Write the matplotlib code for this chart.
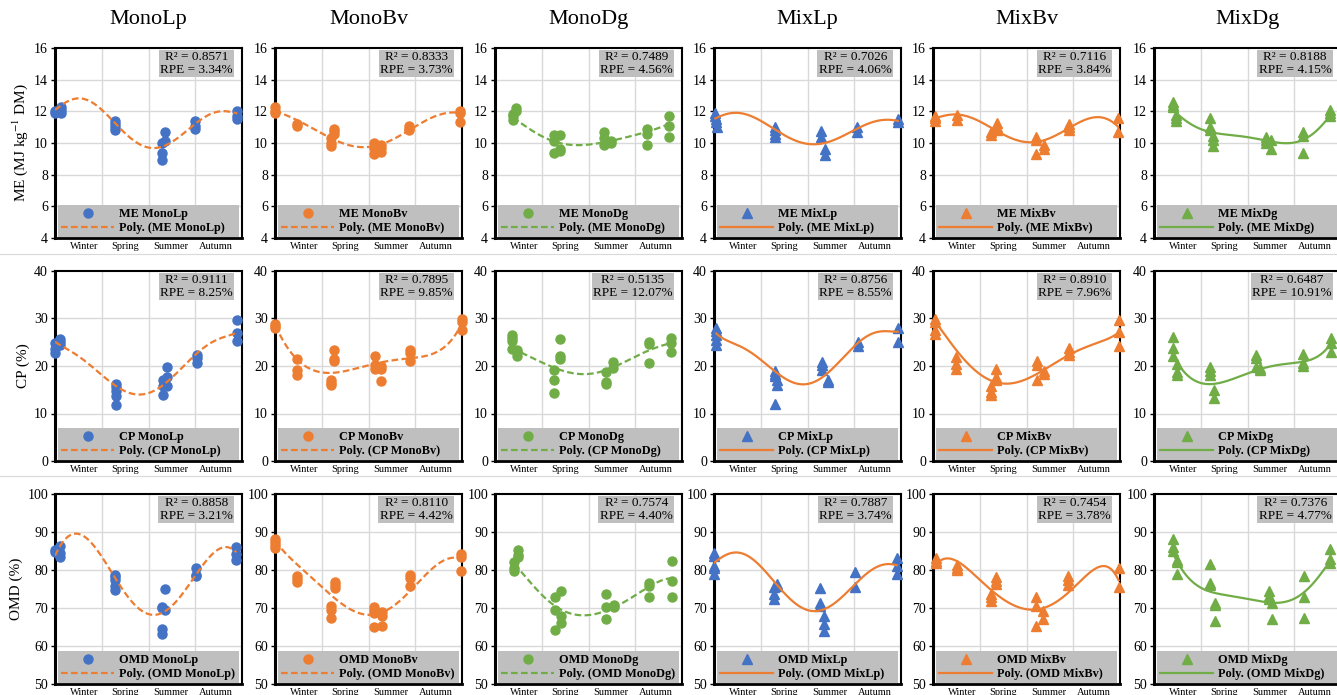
import numpy as np
import matplotlib
matplotlib.use('Agg')
import matplotlib.pyplot as plt
from matplotlib.lines import Line2D

plt.rcParams['font.family'] = ['Liberation Serif', 'DejaVu Serif']
plt.rcParams['mathtext.fontset'] = 'stix'

# ==========================================
# data (x: season axis, 0-4)
# ==========================================
cultivars = ['MonoLp', 'MonoBv', 'MonoDg', 'MixLp', 'MixBv', 'MixDg']
traits = ['ME', 'CP', 'OMD']
seasons = ['Winter', 'Spring', 'Summer', 'Autumn']
season_pos = [0.62, 1.5, 2.47, 3.43]

ylabels = [r'ME (MJ kg$^{-1}$ DM)', 'CP (%)', 'OMD (%)']
ylims = [(4, 16, 2), (0, 40, 10), (50, 100, 10)]

r2_me = [0.8571, 0.8333, 0.7489, 0.7026, 0.7116, 0.8188]
rpe_me = [3.34, 3.73, 4.56, 4.06, 3.84, 4.15]
r2_cp = [0.9111, 0.7895, 0.5135, 0.8756, 0.8910, 0.6487]
rpe_cp = [8.25, 9.85, 12.07, 8.55, 7.96, 10.91]
r2_omd = [0.8858, 0.8110, 0.7574, 0.7887, 0.7454, 0.7376]
rpe_omd = [3.21, 4.42, 4.40, 3.74, 3.78, 4.77]

# --- ME ---
me_monolp_x = [0, 0, 0.12, 0.12, 0.12, 1.28, 1.28, 1.28, 1.28, 2.28, 2.28, 2.28, 2.36, 2.36, 3.0, 3.0, 3.0, 3.9, 3.9, 3.9]
me_monolp_y = [12.0, 11.9, 12.3, 12.1, 11.9, 11.4, 11.2, 11.0, 10.8, 10.0, 9.4, 8.9, 10.7, 10.1, 11.4, 11.1, 10.9, 12.0, 11.7, 11.5]
me_monolp_tx = [0, 0.45, 1.0, 1.25, 1.6, 2.06, 2.5, 3.0, 3.6, 3.9]
me_monolp_ty = [12.1, 12.75, 12.3, 11.2, 10.3, 9.75, 10.1, 11.15, 12.05, 11.85]

me_monobv_x = [0, 0, 0, 0.47, 0.47, 1.2, 1.2, 1.2, 1.27, 1.27, 1.27, 2.12, 2.12, 2.12, 2.26, 2.26, 2.26, 2.87, 2.87, 2.87, 3.95, 3.95, 3.95]
me_monobv_y = [12.3, 12.0, 11.9, 11.2, 11.1, 10.3, 10.0, 9.8, 10.9, 10.75, 10.6, 10.0, 9.7, 9.3, 9.85, 9.7, 9.45, 11.1, 10.9, 10.8, 12.0, 11.9, 11.3]
me_monobv_tx = [0, 0.47, 1.0, 1.5, 1.92, 2.5, 3.0, 3.5, 3.8, 3.95]
me_monobv_ty = [12.05, 11.45, 10.6, 9.95, 9.72, 10.2, 11.05, 11.75, 11.95, 11.9]

me_monodg_x = [0.38, 0.38, 0.38, 0.45, 0.45, 1.27, 1.27, 1.27, 1.39, 1.39, 1.39, 2.33, 2.33, 2.33, 2.49, 2.49, 3.25, 3.25, 3.25, 3.72, 3.72, 3.72]
me_monodg_y = [11.45, 11.7, 11.85, 12.2, 12.05, 10.5, 10.1, 9.35, 10.5, 9.65, 9.5, 10.7, 10.3, 9.85, 10.15, 10.0, 10.9, 10.6, 9.9, 11.7, 11.1, 10.4]
me_monodg_tx = [0.38, 0.7, 1.0, 1.3, 1.64, 2.0, 2.5, 3.0, 3.4, 3.72]
me_monodg_ty = [11.6, 10.95, 10.45, 10.05, 9.88, 9.9, 10.15, 10.5, 10.85, 11.2]

me_mixlp_x = [0.03, 0.03, 0.05, 0.05, 0.07, 1.31, 1.31, 1.31, 1.31, 2.29, 2.29, 2.37, 2.37, 3.05, 3.05, 3.93, 3.93]
me_mixlp_y = [11.9, 11.7, 11.5, 11.3, 11.0, 11.0, 10.85, 10.6, 10.4, 10.75, 10.35, 9.6, 9.25, 11.0, 10.7, 11.5, 11.3]
me_mixlp_tx = [0.03, 0.4, 1.0, 1.5, 2.2, 2.7, 3.05, 3.5, 3.93]
me_mixlp_ty = [11.55, 11.9, 11.4, 10.5, 9.93, 10.35, 10.9, 11.4, 11.4]

me_mixbv_x = [0.04, 0.04, 0.04, 0.51, 0.51, 1.23, 1.23, 1.36, 1.36, 1.36, 2.2, 2.2, 2.2, 2.37, 2.37, 2.9, 2.9, 2.9, 3.96, 3.96]
me_mixbv_y = [11.7, 11.55, 11.4, 11.8, 11.45, 10.7, 10.5, 11.25, 11.0, 10.8, 10.4, 10.2, 9.3, 9.85, 9.6, 11.2, 11.0, 10.85, 11.6, 10.7]
me_mixbv_tx = [0.04, 0.48, 1.0, 1.4, 2.0, 2.4, 2.9, 3.47, 3.8, 3.96]
me_mixbv_ty = [11.55, 11.8, 11.35, 10.75, 9.95, 10.3, 10.9, 11.6, 11.45, 11.0]

me_mixdg_x = [0.4, 0.4, 0.4, 0.47, 0.47, 0.47, 1.19, 1.19, 1.19, 1.27, 1.27, 1.27, 2.4, 2.4, 2.4, 2.5, 2.5, 3.19, 3.19, 3.19, 3.77, 3.77, 3.77]
me_mixdg_y = [12.6, 12.4, 12.25, 11.8, 11.55, 11.4, 11.6, 11.0, 10.8, 10.45, 10.2, 9.8, 10.4, 10.2, 10.0, 10.2, 9.6, 10.7, 10.45, 9.4, 12.1, 11.9, 11.7]
me_mixdg_tx = [0.4, 0.7, 1.0, 1.3, 1.8, 2.4, 2.9, 3.2, 3.5, 3.77]
me_mixdg_ty = [12.1, 11.35, 10.9, 10.62, 10.45, 10.15, 10.0, 10.2, 10.85, 11.75]

# --- CP ---
cp_monolp_x = [0, 0, 0, 0.1, 0.1, 0.1, 1.3, 1.3, 1.3, 1.3, 1.3, 2.32, 2.32, 2.32, 2.39, 2.39, 2.39, 3.04, 3.04, 3.04, 3.9, 3.9, 3.9]
cp_monolp_y = [24.9, 23.5, 22.8, 25.6, 25.1, 24.5, 16.3, 15.5, 14.8, 13.7, 11.85, 17.0, 15.8, 13.8, 19.8, 17.6, 15.8, 22.3, 21.7, 20.7, 29.6, 26.9, 25.2]
cp_monolp_tx = [0, 0.5, 1.0, 1.4, 1.85, 2.3, 2.7, 3.0, 3.4, 3.9]
cp_monolp_ty = [25.1, 22.0, 18.3, 15.0, 14.0, 16.0, 19.5, 22.2, 25.3, 27.0]

cp_monobv_x = [0.01, 0.01, 0.01, 0.46, 0.46, 0.46, 1.2, 1.2, 1.2, 1.27, 1.27, 1.27, 2.13, 2.13, 2.13, 2.27, 2.27, 2.27, 2.89, 2.89, 2.89, 3.99, 3.99, 3.99]
cp_monobv_y = [28.8, 28.4, 28.0, 21.4, 19.1, 18.2, 17.1, 16.5, 15.9, 23.3, 21.5, 21.0, 22.2, 20.2, 19.3, 20.0, 19.4, 16.8, 23.4, 22.8, 21.0, 29.8, 29.2, 27.6]
cp_monobv_tx = [0.01, 0.25, 0.5, 0.8, 1.2, 1.6, 2.0, 2.5, 2.9, 3.3, 3.6, 3.8, 3.99]
cp_monobv_ty = [28.5, 24.2, 21.0, 19.3, 18.4, 19.2, 20.3, 21.0, 21.6, 22.5, 23.8, 25.6, 28.9]

cp_monodg_x = [0.37, 0.37, 0.37, 0.37, 0.46, 0.46, 0.46, 1.27, 1.27, 1.27, 1.38, 1.38, 1.38, 2.37, 2.37, 2.37, 2.53, 2.53, 3.3, 3.3, 3.3, 3.77, 3.77, 3.77]
cp_monodg_y = [26.6, 25.9, 25.2, 23.6, 23.3, 22.9, 22.2, 19.1, 17.1, 14.3, 25.6, 22.1, 21.4, 18.8, 16.6, 16.2, 20.8, 19.5, 25.1, 24.6, 20.6, 25.9, 24.8, 22.9]
cp_monodg_tx = [0.37, 0.7, 1.0, 1.4, 1.96, 2.4, 3.0, 3.3, 3.77]
cp_monodg_ty = [23.8, 22.2, 20.7, 19.2, 18.3, 19.2, 22.0, 23.3, 24.9]

cp_mixlp_x = [0.05, 0.05, 0.05, 0.05, 0.05, 1.3, 1.3, 1.3, 1.35, 1.35, 1.3, 2.32, 2.32, 2.32, 2.43, 2.43, 3.09, 3.09, 3.93, 3.93]
cp_mixlp_y = [28.0, 27.4, 26.6, 25.5, 24.4, 18.9, 18.4, 17.9, 17.1, 16.0, 12.1, 20.9, 20.2, 19.1, 17.1, 16.7, 25.0, 24.2, 28.1, 25.0]
cp_mixlp_tx = [0.05, 0.5, 1.0, 1.4, 1.75, 2.1, 2.45, 2.8, 3.1, 3.45, 3.77, 3.93]
cp_mixlp_ty = [26.85, 24.4, 21.3, 18.3, 16.2, 16.4, 18.8, 22.2, 25.0, 26.9, 27.5, 27.1]

cp_mixbv_x = [0.05, 0.05, 0.05, 0.05, 0.5, 0.5, 0.5, 1.24, 1.24, 1.24, 1.35, 1.35, 1.35, 2.22, 2.22, 2.22, 2.37, 2.37, 2.91, 2.91, 2.91, 3.98, 3.98, 3.98]
cp_mixbv_y = [29.9, 29.3, 27.6, 26.8, 21.9, 20.4, 19.3, 15.8, 14.6, 14.0, 19.4, 17.6, 17.1, 21.0, 20.2, 17.1, 18.9, 18.4, 23.7, 22.9, 22.4, 29.6, 27.1, 24.3]
cp_mixbv_tx = [0.05, 0.3, 0.6, 1.0, 1.45, 2.0, 2.4, 2.9, 3.5, 3.98]
cp_mixbv_ty = [29.3, 26.0, 22.0, 18.4, 16.3, 17.3, 19.3, 22.3, 24.8, 27.1]

cp_mixdg_x = [0.4, 0.4, 0.4, 0.49, 0.49, 0.49, 1.19, 1.19, 1.19, 1.29, 1.29, 2.19, 2.19, 2.19, 2.26, 2.26, 3.18, 3.18, 3.18, 3.78, 3.78, 3.78]
cp_mixdg_y = [26.1, 23.8, 22.1, 20.5, 18.8, 18.2, 19.8, 18.9, 18.1, 14.9, 13.3, 22.4, 21.6, 19.8, 19.2, 19.6, 22.6, 20.7, 19.9, 25.9, 24.9, 22.9]
cp_mixdg_tx = [0.4, 0.6, 0.8, 1.15, 1.55, 2.0, 2.6, 3.18, 3.5, 3.78]
cp_mixdg_ty = [22.5, 19.3, 17.3, 16.3, 16.7, 18.5, 20.1, 20.9, 22.0, 24.7]

# --- OMD ---
omd_monolp_x = [0, 0, 0.1, 0.1, 0.1, 1.28, 1.28, 1.28, 1.28, 1.28, 2.28, 2.28, 2.28, 2.28, 2.35, 2.35, 3.01, 3.01, 3.01, 3.88, 3.88, 3.88]
omd_monolp_y = [85.3, 84.8, 86.4, 84.5, 83.3, 78.8, 78.2, 77.5, 75.8, 74.8, 70.3, 70.0, 64.6, 63.1, 74.9, 69.6, 80.4, 78.8, 78.5, 86.1, 84.2, 82.7]
omd_monolp_tx = [0, 0.43, 1.0, 1.3, 1.7, 2.06, 2.4, 3.0, 3.3, 3.62, 3.88]
omd_monolp_ty = [83.8, 89.4, 84.0, 77.2, 71.0, 67.9, 70.0, 78.4, 83.0, 86.4, 84.5]

omd_monobv_x = [0.01, 0.01, 0.01, 0.01, 0.47, 0.47, 0.47, 1.19, 1.19, 1.19, 1.28, 1.28, 1.28, 2.12, 2.12, 2.12, 2.12, 2.29, 2.29, 2.29, 2.89, 2.89, 2.89, 3.97, 3.97, 3.97]
omd_monobv_y = [88.1, 87.4, 86.6, 85.9, 78.4, 77.6, 76.8, 70.4, 69.6, 67.4, 76.8, 76.0, 75.3, 70.2, 69.4, 68.6, 65.0, 68.9, 68.0, 65.3, 78.6, 78.0, 75.8, 84.2, 83.5, 79.8]
omd_monobv_tx = [0.01, 0.47, 1.0, 1.4, 1.86, 2.3, 2.9, 3.44, 3.8, 3.97]
omd_monobv_ty = [87.7, 81.3, 76.0, 71.0, 68.3, 69.2, 74.5, 81.0, 83.5, 82.8]

omd_monodg_x = [0.41, 0.41, 0.41, 0.49, 0.49, 0.49, 1.29, 1.29, 1.29, 1.42, 1.42, 1.42, 2.38, 2.38, 2.38, 2.54, 2.54, 3.3, 3.3, 3.3, 3.79, 3.79, 3.79]
omd_monodg_y = [82.0, 80.5, 79.7, 85.3, 84.0, 83.3, 72.9, 69.4, 64.2, 74.6, 67.9, 66.0, 73.8, 70.3, 67.1, 70.8, 70.3, 76.5, 75.8, 72.9, 82.5, 77.2, 73.0]
omd_monodg_tx = [0.41, 0.7, 1.0, 1.36, 1.87, 2.38, 3.0, 3.3, 3.79]
omd_monodg_ty = [81.5, 77.5, 73.6, 69.8, 68.2, 69.2, 73.4, 75.6, 77.8]

omd_mixlp_x = [0.01, 0.01, 0.01, 0.01, 0.01, 1.29, 1.29, 1.29, 1.35, 1.35, 2.27, 2.27, 2.27, 2.36, 2.36, 2.36, 3.02, 3.02, 3.91, 3.91, 3.91]
omd_mixlp_y = [84.4, 83.6, 81.1, 80.4, 78.9, 75.6, 73.6, 72.5, 76.4, 75.8, 75.3, 71.3, 70.5, 67.9, 65.7, 64.0, 79.4, 75.6, 83.2, 81.1, 78.9]
omd_mixlp_tx = [0.01, 0.36, 1.0, 1.3, 1.7, 2.09, 2.4, 3.0, 3.4, 3.78, 3.91]
omd_mixlp_ty = [82.0, 84.4, 81.1, 76.5, 71.8, 69.1, 69.9, 76.2, 80.0, 81.8, 81.1]

omd_mixbv_x = [0.07, 0.07, 0.07, 0.52, 0.52, 0.52, 1.24, 1.24, 1.24, 1.35, 1.35, 1.35, 2.2, 2.2, 2.2, 2.36, 2.36, 2.89, 2.89, 2.89, 3.97, 3.97]
omd_mixbv_y = [83.2, 82.5, 81.8, 81.3, 80.5, 79.9, 73.7, 72.8, 71.9, 78.1, 77.2, 76.3, 72.8, 70.5, 65.3, 69.1, 67.2, 78.5, 77.5, 76.1, 80.4, 75.4]
omd_mixbv_tx = [0.07, 0.32, 0.7, 1.0, 1.4, 2.07, 2.4, 2.9, 3.3, 3.58, 3.8, 3.97]
omd_mixbv_ty = [81.6, 82.9, 80.8, 77.6, 73.0, 69.5, 70.3, 74.2, 78.5, 81.0, 80.5, 77.2]

omd_mixdg_x = [0.4, 0.4, 0.4, 0.49, 0.49, 0.49, 1.2, 1.2, 1.2, 1.3, 1.3, 1.3, 2.45, 2.45, 2.45, 2.52, 2.52, 3.21, 3.21, 3.21, 3.77, 3.77, 3.77]
omd_mixdg_y = [88.1, 86.1, 85.0, 82.7, 82.0, 78.9, 81.5, 76.7, 76.0, 71.4, 70.7, 66.6, 74.5, 73.2, 72.5, 71.4, 67.0, 78.4, 73.0, 67.5, 85.4, 82.8, 81.9]
omd_mixdg_tx = [0.4, 0.7, 1.0, 1.4, 2.0, 2.5, 3.0, 3.2, 3.4, 3.77]
omd_mixdg_ty = [84.6, 78.4, 75.4, 73.7, 72.3, 71.5, 72.5, 73.8, 76.6, 82.4]

points = [
    [(me_monolp_x, me_monolp_y), (me_monobv_x, me_monobv_y), (me_monodg_x, me_monodg_y),
     (me_mixlp_x, me_mixlp_y), (me_mixbv_x, me_mixbv_y), (me_mixdg_x, me_mixdg_y)],
    [(cp_monolp_x, cp_monolp_y), (cp_monobv_x, cp_monobv_y), (cp_monodg_x, cp_monodg_y),
     (cp_mixlp_x, cp_mixlp_y), (cp_mixbv_x, cp_mixbv_y), (cp_mixdg_x, cp_mixdg_y)],
    [(omd_monolp_x, omd_monolp_y), (omd_monobv_x, omd_monobv_y), (omd_monodg_x, omd_monodg_y),
     (omd_mixlp_x, omd_mixlp_y), (omd_mixbv_x, omd_mixbv_y), (omd_mixdg_x, omd_mixdg_y)],
]
trends = [
    [(me_monolp_tx, me_monolp_ty), (me_monobv_tx, me_monobv_ty), (me_monodg_tx, me_monodg_ty),
     (me_mixlp_tx, me_mixlp_ty), (me_mixbv_tx, me_mixbv_ty), (me_mixdg_tx, me_mixdg_ty)],
    [(cp_monolp_tx, cp_monolp_ty), (cp_monobv_tx, cp_monobv_ty), (cp_monodg_tx, cp_monodg_ty),
     (cp_mixlp_tx, cp_mixlp_ty), (cp_mixbv_tx, cp_mixbv_ty), (cp_mixdg_tx, cp_mixdg_ty)],
    [(omd_monolp_tx, omd_monolp_ty), (omd_monobv_tx, omd_monobv_ty), (omd_monodg_tx, omd_monodg_ty),
     (omd_mixlp_tx, omd_mixlp_ty), (omd_mixbv_tx, omd_mixbv_ty), (omd_mixdg_tx, omd_mixdg_ty)],
]
r2s = [r2_me, r2_cp, r2_omd]
rpes = [rpe_me, rpe_cp, rpe_omd]

# ==========================================
# style
# ==========================================
BLUE = '#4472C4'
ORANGE = '#ED7D31'
GREEN = '#70AD47'
GREY = '#BFBFBF'
GRID = '#D9D9D9'
point_colors = [BLUE, ORANGE, GREEN, BLUE, ORANGE, GREEN]
trend_colors = [ORANGE, ORANGE, GREEN, ORANGE, ORANGE, GREEN]
markers = ['o', 'o', 'o', '^', '^', '^']
dashed = [True, True, True, False, False, False]

W, H = 1337, 695
lefts = [55, 275, 495, 714, 933, 1154]
tops = [48, 271, 494]
pw, ph = 187, 190

fig = plt.figure(figsize=(W / 100, H / 100), dpi=100)

for r in range(3):
    lo, hi, step = ylims[r]
    for c in range(6):
        ax = fig.add_axes([lefts[c] / W, 1 - (tops[r] + ph) / H, pw / W, ph / H])
        ax.set_xlim(0, 4)
        ax.set_ylim(lo, hi)
        ax.set_yticks(np.arange(lo, hi + step / 2, step))
        ax.set_xticks(season_pos, seasons)
        ax.tick_params(axis='x', length=0, pad=3, labelsize=7.5)
        ax.tick_params(axis='y', length=3, width=1, pad=2, labelsize=10)
        for v in [1, 2, 3]:
            ax.axvline(v, color=GRID, lw=1, zorder=0)
        for v in np.arange(lo + step, hi, step):
            ax.axhline(v, color=GRID, lw=1, zorder=0)
        for s in ax.spines.values():
            s.set_linewidth(1.5)
        ax.spines['left'].set_linewidth(2.2)
        ax.spines['bottom'].set_linewidth(2.0)

        px, py = points[r][c]
        ax.plot(px, py, linestyle='none', marker=markers[c], ms=6.5,
                color=point_colors[c], clip_on=False, zorder=3)

        # polynomial trend through the curve
        tx, ty = trends[r][c]
        deg = 6 if len(tx) >= 9 else len(tx) - 2
        coef = np.polyfit(tx, ty, deg)
        xs = np.linspace(tx[0], tx[-1], 300)
        if dashed[c]:
            ax.plot(xs, np.polyval(coef, xs), color=trend_colors[c], lw=1.6,
                    dashes=(3, 1.5), zorder=4)
        else:
            ax.plot(xs, np.polyval(coef, xs), color=trend_colors[c], lw=1.6, zorder=4)

        ax.text(0.95, 0.985, f'R\u00b2 = {r2s[r][c]:.4f}\nRPE = {rpes[r][c]:.2f}%',
                transform=ax.transAxes, ha='right', va='top', multialignment='center',
                fontsize=9.5, linespacing=1.1, zorder=6,
                bbox=dict(boxstyle='square,pad=0.1', facecolor=GREY, edgecolor='none'))

        h1 = Line2D([], [], linestyle='none', marker=markers[c], ms=6.5, color=point_colors[c])
        if dashed[c]:
            h2 = Line2D([], [], color=trend_colors[c], lw=1.6, dashes=(3, 1.5))
        else:
            h2 = Line2D([], [], color=trend_colors[c], lw=1.6)
        leg = ax.legend([h1, h2], [f'{traits[r]} {cultivars[c]}', f'Poly. ({traits[r]} {cultivars[c]})'],
                        loc='lower left', bbox_to_anchor=(0.015, 0.0, 0.97, 0.2), mode='expand',
                        borderaxespad=0.05, frameon=True, fancybox=False, facecolor=GREY,
                        edgecolor='none', framealpha=1, handlelength=4.3, handletextpad=0.4,
                        labelspacing=0.2, borderpad=0.25, numpoints=1,
                        prop={'weight': 'bold', 'size': 8.8})
        leg.set_zorder(7)

        if c == 0:
            ax.set_ylabel(ylabels[r], fontsize=11, labelpad=3)
        if r == 0:
            ax.set_title(cultivars[c], fontsize=16, pad=17)

# light chart-area separators
for yy in [254, 476]:
    fig.add_artist(Line2D([0, 1], [1 - yy / H, 1 - yy / H], color=GRID, lw=0.8))

fig.savefig('out.png', dpi=100)
